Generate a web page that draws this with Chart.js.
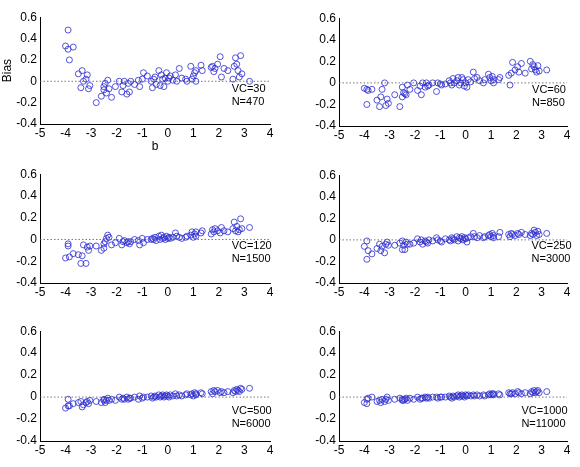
<!DOCTYPE html>
<html>
<head>
<meta charset="utf-8">
<script src="https://cdn.jsdelivr.net/npm/chart.js@4"></script>
<style>
  body { margin: 0; background: #fff; width: 580px; height: 467px; position: relative; overflow: hidden; }
  canvas { position: absolute; }
</style>
</head>
<body>
<script>
// item difficulty (b) — shared by all panels
const bValues = [
  -4.0,-3.9,-3.9,-3.85,-3.7,-3.5,-3.4,-3.35,-3.3,-3.2,
  -3.15,-3.1,-3.05,-2.8,-2.6,-2.5,-2.5,-2.45,-2.4,-2.35,
  -2.3,-2.2,-2.05,-1.9,-1.8,-1.75,-1.7,-1.6,-1.55,-1.5,
  -1.45,-1.3,-1.15,-1.1,-1.0,-0.95,-0.8,-0.65,-0.6,-0.55,
  -0.5,-0.45,-0.35,-0.3,-0.25,-0.2,-0.15,-0.1,-0.05,0.0,
  0.05,0.1,0.2,0.3,0.35,0.45,0.55,0.7,0.75,0.9,
  0.95,1.0,1.05,1.1,1.1,1.3,1.35,1.7,1.75,1.8,
  1.85,1.95,2.05,2.1,2.2,2.35,2.55,2.6,2.65,2.7,
  2.75,2.8,2.85,2.9,3.2
];

const biasVC30 = [
  0.33,0.48,0.30,0.20,0.32,0.07,-0.06,0.10,0.00,0.02,
  0.06,-0.07,-0.04,-0.20,-0.14,-0.05,-0.08,-0.02,-0.11,0.01,
  -0.07,-0.15,-0.05,0.00,-0.10,-0.04,0.00,-0.12,-0.02,-0.10,
  0.00,-0.03,0.01,-0.05,0.02,0.08,0.05,0.00,-0.06,0.02,
  0.04,-0.03,0.10,-0.04,0.06,0.02,-0.05,0.03,0.08,0.00,
  0.03,0.05,0.01,0.06,0.00,0.12,0.03,0.02,0.00,0.14,
  0.02,0.05,0.08,0.00,0.10,0.15,0.10,0.13,0.14,0.09,
  0.12,0.16,0.23,0.04,0.12,0.10,0.02,0.14,0.22,0.16,
  0.10,0.04,0.24,0.07,0.00
];
const biasVC60 = [
  -0.05,-0.06,-0.20,-0.07,-0.06,-0.16,-0.22,-0.13,-0.06,0.00,
  -0.21,-0.15,-0.19,-0.11,-0.22,-0.04,-0.13,-0.09,-0.10,-0.11,
  -0.02,-0.06,0.00,-0.07,-0.03,-0.11,0.00,-0.04,0.00,-0.03,
  -0.02,0.00,-0.08,0.00,-0.01,-0.02,-0.01,0.02,0.00,-0.02,
  0.04,0.00,0.02,0.05,-0.02,0.00,0.05,0.03,-0.03,0.00,
  -0.04,0.03,0.01,0.10,0.04,0.05,0.02,0.00,0.03,0.08,
  0.05,0.02,0.06,0.03,0.00,0.03,0.05,0.07,-0.02,0.09,
  0.19,0.12,0.15,0.10,0.18,0.09,0.20,0.13,0.17,0.15,
  0.12,0.10,0.16,0.11,0.12
];
const biasVC120 = [
  -0.17,-0.04,-0.06,-0.16,-0.13,-0.14,-0.22,-0.15,-0.05,-0.22,
  -0.07,-0.10,-0.06,-0.06,-0.10,-0.04,-0.08,-0.02,0.01,0.04,
  0.02,-0.05,-0.03,0.01,-0.05,-0.02,-0.01,-0.03,-0.02,-0.04,
  -0.02,0.00,-0.01,-0.05,0.01,-0.03,0.00,0.00,0.01,0.00,
  0.02,-0.01,0.03,0.00,0.04,0.01,0.02,0.00,0.03,0.01,
  0.02,0.01,0.02,0.06,0.03,0.02,0.01,0.02,0.03,0.04,
  0.07,0.02,0.05,0.03,0.07,0.06,0.08,0.05,0.09,0.07,
  0.10,0.08,0.06,0.11,0.08,0.07,0.10,0.16,0.08,0.12,
  0.07,0.09,0.19,0.10,0.11
];
const biasVC250 = [
  -0.06,-0.18,-0.01,-0.10,-0.13,-0.08,-0.04,-0.10,-0.06,-0.12,
  -0.04,-0.02,-0.05,-0.05,-0.03,-0.01,-0.09,-0.05,-0.09,-0.02,
  -0.04,-0.04,-0.03,0.01,-0.02,0.00,-0.04,-0.01,-0.02,-0.03,
  0.00,-0.01,0.02,0.00,-0.01,-0.02,0.01,0.00,-0.01,0.02,
  0.01,0.00,0.03,-0.01,0.02,0.01,0.03,0.00,0.02,0.01,
  -0.02,0.02,0.03,0.06,0.03,0.02,0.04,0.02,0.03,0.04,
  0.05,0.03,0.06,0.02,0.04,0.03,0.07,0.05,0.03,0.06,
  0.05,0.04,0.06,0.05,0.07,0.05,0.04,0.06,0.05,0.09,
  0.07,0.04,0.08,0.05,0.06
];
const biasVC500 = [
  -0.10,-0.08,-0.02,-0.08,-0.06,-0.05,-0.04,-0.09,-0.07,-0.05,
  -0.04,-0.06,-0.03,-0.04,-0.05,-0.03,-0.02,-0.05,-0.03,-0.01,
  -0.03,-0.02,-0.03,0.00,-0.02,-0.01,-0.02,0.00,-0.02,-0.01,
  -0.01,0.00,-0.02,0.01,-0.01,0.00,0.00,0.01,-0.01,0.00,
  0.01,0.00,0.02,0.00,0.01,0.02,0.00,0.01,0.02,0.01,
  0.00,0.02,0.01,0.03,0.01,0.02,0.01,0.02,0.03,0.02,
  0.03,0.01,0.04,0.02,0.03,0.04,0.03,0.05,0.03,0.06,
  0.05,0.06,0.04,0.05,0.04,0.05,0.04,0.06,0.05,0.07,
  0.06,0.05,0.08,0.07,0.08
];
const biasVC1000 = [
  -0.05,-0.02,-0.06,-0.01,0.00,-0.04,-0.03,-0.05,-0.02,-0.04,
  -0.02,0.00,-0.03,-0.02,-0.01,-0.03,-0.02,-0.03,-0.02,-0.01,
  -0.03,-0.01,-0.02,0.00,-0.02,-0.01,-0.01,0.00,-0.01,0.00,
  -0.01,0.00,0.00,-0.01,0.00,0.00,0.00,0.01,0.00,-0.01,
  0.01,0.00,0.01,0.02,0.00,0.01,0.02,0.01,0.00,0.02,
  0.01,0.02,0.01,0.02,0.01,0.02,0.01,0.02,0.01,0.02,
  0.03,0.02,0.03,0.02,0.03,0.03,0.02,0.04,0.03,0.03,
  0.04,0.03,0.05,0.04,0.03,0.04,0.03,0.05,0.04,0.06,
  0.04,0.05,0.06,0.04,0.05
];

const panelLabels = [['VC=30','N=470'],['VC=60','N=850'],['VC=120','N=1500'],
                     ['VC=250','N=3000'],['VC=500','N=6000'],['VC=1000','N=11000']];
const panelSeries = [biasVC30, biasVC60, biasVC120, biasVC250, biasVC500, biasVC1000];
const refLine = [-5, 4];

// chart area boxes in page pixels [left, top, right, bottom], plus label anchor (data units)
const panels = [
  { box: [40, 13, 270, 124], lab: [2.5, -0.07], first: true },
  { box: [339, 14, 567, 126], lab: [2.62, -0.07] },
  { box: [40, 170, 270, 283], lab: [2.5, -0.06] },
  { box: [339, 171, 567, 283], lab: [2.6, -0.06] },
  { box: [40, 327, 270, 441], lab: [2.5, -0.13] },
  { box: [339, 327, 567, 441], lab: [2.2, -0.13] }
];

const BLUE = '#2a2ad0';
const FONT = { family: 'Liberation Sans, Arial, sans-serif', size: 12 };

const labelPlugin = {
  id: 'panelLabel',
  afterDatasetsDraw(chart, args, opts) {
    const { ctx, scales } = chart;
    ctx.save();
    ctx.font = '11px Liberation Sans, Arial, sans-serif';
    ctx.fillStyle = '#000';
    ctx.textAlign = 'left';
    ctx.textBaseline = 'middle';
    const x = scales.x.getPixelForValue(opts.at[0]);
    const y = scales.y.getPixelForValue(opts.at[1]);
    ctx.fillText(opts.lines[0], x, y);
    ctx.fillText(opts.lines[1], x, y + 13);
    ctx.restore();
  }
};

panels.forEach((p, i) => {
  const [L, T, R, B] = p.box;
  const yW = p.first ? 40 : 30;
  const xH = p.first ? 30 : 16;
  const pad = 6;
  const cv = document.createElement('canvas');
  const w = R - L + yW + pad, h = B - T + pad + xH;
  cv.style.left = (L - yW) + 'px';
  cv.style.top = (T - pad) + 'px';
  cv.style.width = w + 'px';
  cv.style.height = h + 'px';
  cv.width = w; cv.height = h;
  document.body.appendChild(cv);

  new Chart(cv, {
    type: 'scatter',
    data: {
      datasets: [{
        type: 'line',
        data: refLine.map(x => ({ x, y: 0 })),
        borderColor: '#555',
        borderWidth: 0.8,
        borderDash: [1.5, 2],
        pointRadius: 0
      }, {
        data: bValues.map((b, k) => ({ x: b, y: panelSeries[i][k] })),
        borderColor: BLUE,
        backgroundColor: 'rgba(0,0,0,0)',
        borderWidth: 0.8,
        pointRadius: 3
      }]
    },
    options: {
      responsive: false,
      animation: false,
      devicePixelRatio: 1,
      layout: { padding: { top: pad, right: pad, left: 0, bottom: 0 } },
      plugins: {
        legend: { display: false },
        tooltip: { enabled: false },
        panelLabel: { at: p.lab, lines: panelLabels[i] }
      },
      scales: {
        x: {
          type: 'linear', min: -5, max: 4,
          afterFit: s => { s.height = xH; },
          grid: { display: false, drawTicks: false },
          border: { display: true, color: '#000', width: 1 },
          ticks: { stepSize: 1, color: '#000', font: FONT, padding: 2 },
          title: { display: !!p.first, text: 'b', color: '#000', font: FONT, padding: 0 }
        },
        y: {
          min: -0.4, max: 0.6,
          afterFit: s => { s.width = yW; },
          grid: { display: false, drawTicks: false },
          border: { display: true, color: '#000', width: 1 },
          ticks: { stepSize: 0.2, color: '#000', font: FONT, padding: 3,
                   callback: v => (Math.abs(v) < 1e-9 ? '0' : v.toFixed(1)) },
          title: { display: !!p.first, text: 'Bias', color: '#000', font: FONT, padding: 0 }
        }
      }
    },
    plugins: [labelPlugin]
  });
});
</script>
</body>
</html>
